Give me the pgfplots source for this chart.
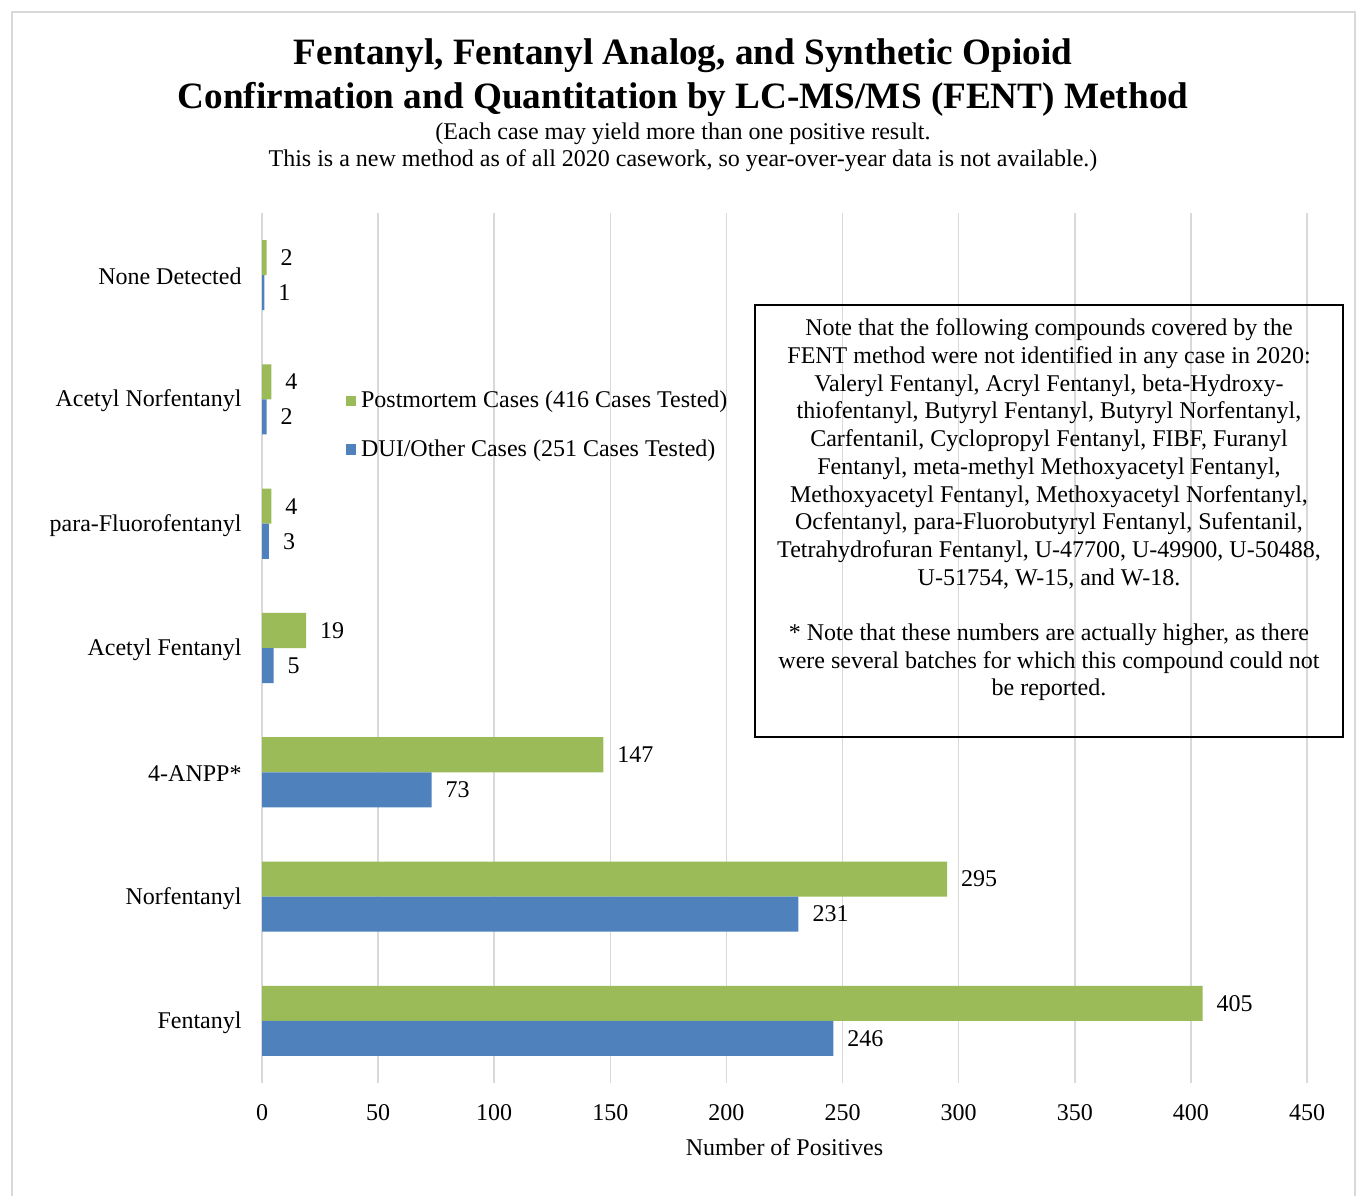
\documentclass[border=0pt]{standalone}
\usepackage{fontspec}
\setmainfont{Liberation Serif}
\usepackage{pgfplots}
\pgfplotsset{compat=1.18}
\definecolor{pmgreen}{HTML}{9BBB59}
\definecolor{duiblue}{HTML}{4F81BD}
\definecolor{gridgray}{HTML}{D9D9D9}

\begin{document}
\begin{tikzpicture}[x=1pt,y=1pt]
\useasboundingbox (0,0) rectangle (679,597.5);
% outer chart frame
\draw[gridgray, line width=0.6pt] (6,-2) -- (6,591.5) -- (677.5,591.5) -- (677.5,-2);

% titles
\node[anchor=base, font=\fontsize{18.6}{22}\selectfont\bfseries] at (341.5,565) {Fentanyl, Fentanyl Analog, and Synthetic Opioid};
\node[anchor=base, font=\fontsize{18.6}{22}\selectfont\bfseries] at (341.5,543) {Confirmation and Quantitation by LC-MS/MS (FENT) Method};
\node[anchor=base, font=\fontsize{12}{13.85}\selectfont] at (341.5,527.5) {(Each case may yield more than one positive result.};
\node[anchor=base, font=\fontsize{12}{13.85}\selectfont] at (341.5,514) {This is a new method as of all 2020 casework, so year-over-year data is not available.)};

\begin{axis}[
  at={(131pt,56pt)}, anchor=south west,
  scale only axis, width=522.5pt, height=435pt,
  xbar, bar width=0.282,
  xmin=0, xmax=450, ymin=-0.5, ymax=6.5,
  xtick={0,50,...,450}, ytick={0,...,6},
  yticklabels={Fentanyl,Norfentanyl,4-ANPP*,Acetyl Fentanyl,para-Fluorofentanyl,Acetyl Norfentanyl,None Detected},
  xmajorgrids, grid style={gridgray, line width=0.75pt},
  axis lines*=left, axis line style={draw=none}, major tick length=0pt,
  font=\fontsize{12}{13.85}\selectfont,
  /pgf/number format/assume math mode=true,
  xticklabel style={yshift=-7pt},
  yticklabel style={xshift=-6.7pt, yshift=-0.8pt},
  xlabel={Number of Positives},
  every axis x label/.style={at={(axis description cs:0.5,0)}, anchor=center, yshift=-32pt},
  point meta=x,
  nodes near coords,
  every node near coord/.append style={xshift=3.5pt, font=\fontsize{12}{13.85}\selectfont, black},
  legend style={at={(0.074,0.756)}, anchor=west, draw=none, fill=none,
    row sep=10.5pt, font=\fontsize{12}{13.85}\selectfont,
    nodes={inner xsep=2.5pt}},
  legend cell align=left,
]
\addplot[fill=pmgreen, draw=none, bar shift=0.141,
  legend image code/.code={\fill[pmgreen] (0pt,-2.6pt) rectangle (5.2pt,2.6pt);}]
  coordinates {(405,0) (295,1) (147,2) (19,3) (4,4) (4,5) (2,6)};
\addlegendentry{Postmortem Cases (416 Cases Tested)}
\addplot[fill=duiblue, draw=none, bar shift=-0.141,
  legend image code/.code={\fill[duiblue] (0pt,-2.6pt) rectangle (5.2pt,2.6pt);}]
  coordinates {(246,0) (231,1) (73,2) (5,3) (3,4) (2,5) (1,6)};
\addlegendentry{DUI/Other Cases (251 Cases Tested)}
\end{axis}

% note box
\draw[black, line width=0.75pt] (377.5,229) rectangle (671.5,445);
\node[align=center, font=\fontsize{12}{13.85}\selectfont, inner sep=0pt] at (524.5,342.5) {%
Note that the following compounds covered by the\\
FENT method were not identified in any case in 2020:\\
Valeryl Fentanyl, Acryl Fentanyl, beta-Hydroxy-\\
thiofentanyl, Butyryl Fentanyl, Butyryl Norfentanyl,\\
Carfentanil, Cyclopropyl Fentanyl, FIBF, Furanyl\\
Fentanyl, meta-methyl Methoxyacetyl Fentanyl,\\
Methoxyacetyl Fentanyl, Methoxyacetyl Norfentanyl,\\
Ocfentanyl, para-Fluorobutyryl Fentanyl, Sufentanil,\\
Tetrahydrofuran Fentanyl, U-47700, U-49900, U-50488,\\
U-51754, W-15, and W-18.\\[13.85pt]
* Note that these numbers are actually higher, as there\\
were several batches for which this compound could not\\
be reported.};
\end{tikzpicture}
\end{document}
